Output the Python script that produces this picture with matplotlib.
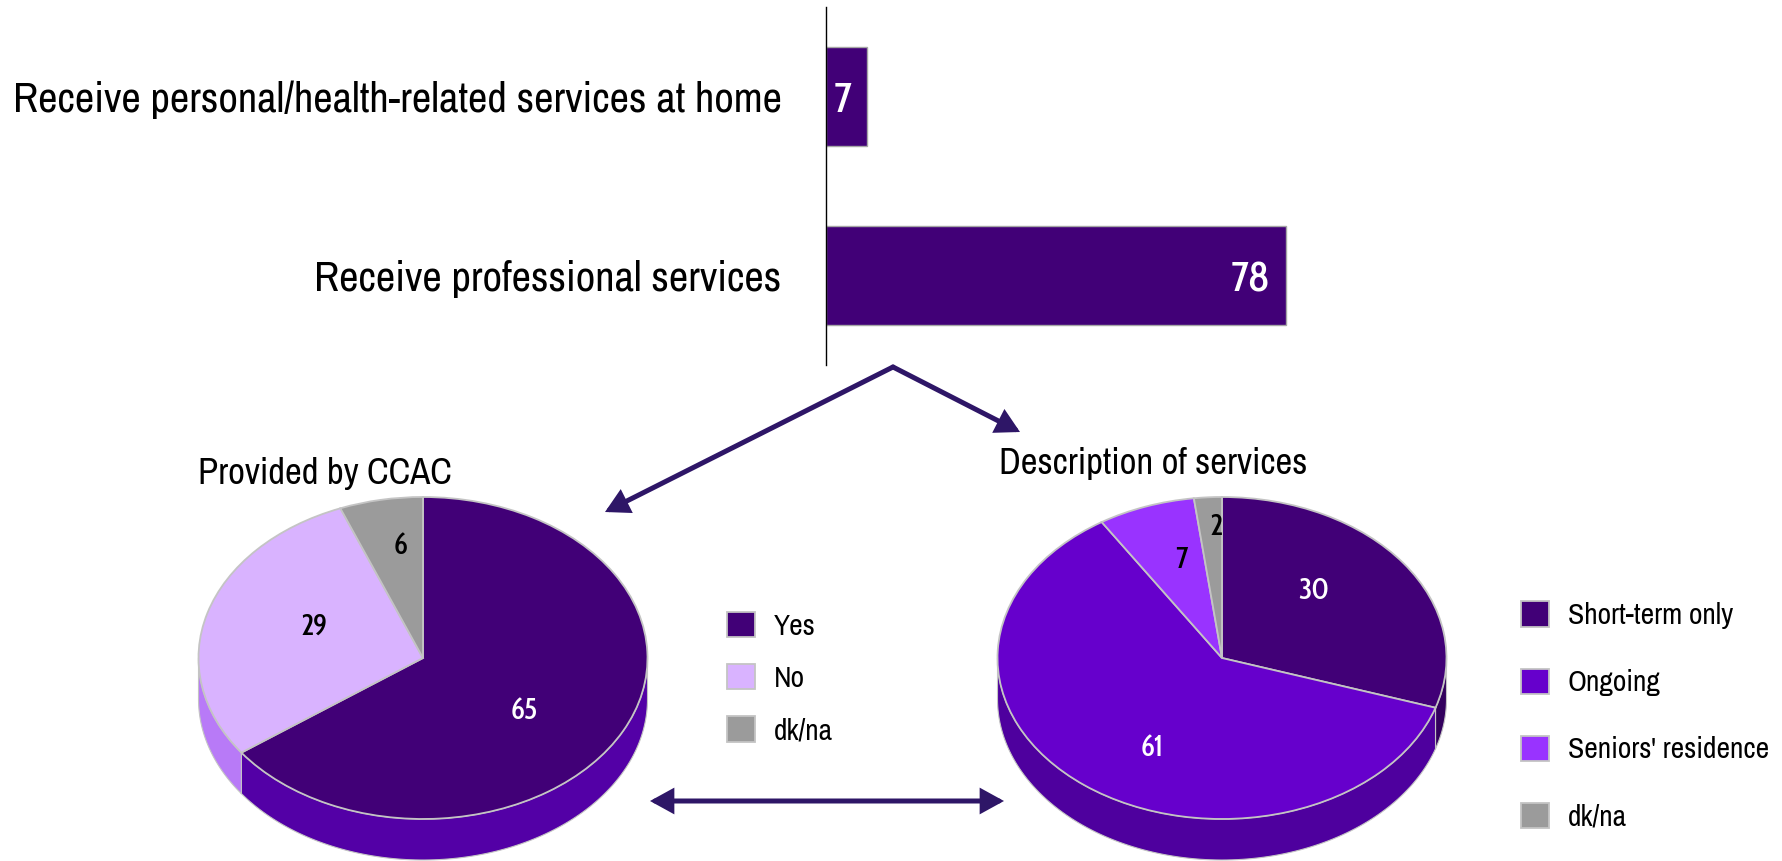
import numpy as np
import matplotlib
matplotlib.use("Agg")
import matplotlib.pyplot as plt

# ---- data ----
bar_categories = ["Receive personal/health-related services at home",
                  "Receive professional services"]
bar_values = [7, 78]

ccac_title = "Provided by CCAC"
ccac_labels = ["Yes", "No", "dk/na"]
ccac_values = [65, 29, 6]

desc_title = "Description of services"
desc_labels = ["Short-term only", "Ongoing", "Seniors' residence", "dk/na"]
desc_values = [30, 61, 7, 2]

# ---- style ----
W, H, DPI = 1782, 861, 100
DARK = "#410077"
LAVENDER = "#D9B3FF"
GREY = "#9B9B9B"
VIOLET = "#6600CC"
ORCHID = "#9933FF"
EDGE = "#C4C4C4"
ARROW = "#2E1667"

TEXT_FONT = ['Archivo Narrow', 'PT Sans Narrow', 'Liberation Sans', 'DejaVu Sans']
NUM_FONT = ['Cabin Condensed', 'Archivo Narrow', 'DejaVu Sans']
plt.rcParams['font.family'] = TEXT_FONT

fig = plt.figure(figsize=(W / DPI, H / DPI), dpi=DPI)


def px_box(x0, y0, x1, y1):
    """Pixel box (top-left origin) -> figure-fraction rect."""
    return [x0 / W, 1 - y1 / H, (x1 - x0) / W, (y1 - y0) / H]


# ---- horizontal bar chart ----
ax = fig.add_axes(px_box(826, 7, 826 + 589.7, 365))
ypos = np.arange(len(bar_values))
bars = ax.barh(ypos, bar_values, height=0.55, color=DARK,
               edgecolor="#A6A6A6", linewidth=1.0)
ax.set_xlim(0, 100)
ax.set_ylim(len(bar_values) - 0.5, -0.5)
ax.set_yticks(ypos, bar_categories, fontsize=30.6)
ax.tick_params(axis='y', length=0, pad=32)
ax.set_xticks([])
for s in ['top', 'right', 'bottom']:
    ax.spines[s].set_visible(False)
ax.spines['left'].set_linewidth(1.0)
ax.spines['left'].set_color('black')
ax.set_facecolor('none')
for t in ax.bar_label(bars, padding=-11.5, color='white', fontsize=30,
                      family=NUM_FONT, fontweight='medium'):
    t.set_ha('right')
    t.set_va('center_baseline')


# ---- 3-D looking pies ----
def draw_pie(cx, cy, a, b, depth, values, colors, side_colors,
             label_colors, label_r, label_turn):
    m = 0.08
    pax = fig.add_axes(px_box(cx - a * (1 + m), cy - b * (1 + m),
                              cx + a * (1 + m), cy + b + depth + b * m))
    wedges, _ = pax.pie(values, colors=colors, startangle=90,
                        counterclock=False,
                        wedgeprops=dict(edgecolor=EDGE, linewidth=1.3))
    pax.set_aspect('auto')
    pax.set_xlim(-(1 + m), 1 + m)
    pax.set_ylim(-(b + depth + b * m) / b, 1 + m)
    d = depth / b
    # visible rim (front half of the cylinder)
    for w, sc in zip(wedges, side_colors):
        for k in range(-2, 2):
            lo = max(w.theta1, -180 + 360 * k)
            hi = min(w.theta2, 360 * k)
            if hi > lo:
                t = np.deg2rad(np.linspace(lo, hi, 120))
                xs = np.concatenate([np.cos(t), np.cos(t[::-1])])
                ys = np.concatenate([np.sin(t), np.sin(t[::-1]) - d])
                pax.fill(xs, ys, facecolor=sc, edgecolor=EDGE,
                         linewidth=0.8, zorder=0.5)
    # value labels
    for w, v, c, r, turn in zip(wedges, values, label_colors, label_r,
                                label_turn):
        mid = np.deg2rad((w.theta1 + w.theta2) / 2 + turn)
        pax.text(r * np.cos(mid), r * np.sin(mid), f"{v}", color=c,
                 fontsize=21, ha='center', va='center', zorder=5,
                 family=NUM_FONT, fontweight='medium')
    return wedges


ccac_wedges = draw_pie(423, 658, 224.5, 161, 41, ccac_values,
                       [DARK, LAVENDER, GREY],
                       ["#5300A6", "#B87AF7", "#7A7A7A"],
                       ['white', 'black', 'black'],
                       [0.56, 0.52, 0.70], [-9.5, -5.5, -2.5])
desc_wedges = draw_pie(1222, 658, 224.5, 161, 41, desc_values,
                       [DARK, VIOLET, ORCHID, GREY],
                       ["#33005E", "#4E009E", "#7A22D0", "#7A7A7A"],
                       ['white', 'white', 'black', 'black'],
                       [0.58, 0.64, 0.63, 0.81], [9.0, 8.8, -3.2, -1.6])

fig.text(198 / W, 1 - 473 / H, ccac_title, fontsize=26.4,
         ha='left', va='center')
fig.text(999 / W, 1 - 464 / H, desc_title, fontsize=26.4,
         ha='left', va='center')

legend_kw = dict(loc='center left', frameon=False, fontsize=21.3,
                 handlelength=0.93, handleheight=0.93, handletextpad=0.65,
                 borderpad=0, borderaxespad=0)
fig.legend(ccac_wedges, ccac_labels, bbox_to_anchor=(727 / W, 1 - 678 / H),
           labelspacing=0.83, **legend_kw)
fig.legend(desc_wedges, desc_labels, bbox_to_anchor=(1521 / W, 1 - 716 / H),
           labelspacing=1.33, **legend_kw)

# ---- connecting arrows ----
oax = fig.add_axes([0, 0, 1, 1], zorder=10)
oax.set_xlim(0, W)
oax.set_ylim(H, 0)
oax.axis('off')
arrow_kw = dict(arrowstyle='-|>,head_length=0.4,head_width=0.22',
                mutation_scale=30, lw=3.6, color=ARROW,
                shrinkA=0, shrinkB=0, joinstyle='miter')
oax.annotate('', xy=(605, 512), xytext=(893, 367), arrowprops=arrow_kw)
oax.annotate('', xy=(1020, 432), xytext=(893, 367), arrowprops=arrow_kw)
dbl_kw = dict(arrow_kw, arrowstyle='<|-|>,head_length=0.4,head_width=0.22')
oax.annotate('', xy=(1004, 801), xytext=(650, 801), arrowprops=dbl_kw)

fig.savefig("out.png", dpi=DPI)
